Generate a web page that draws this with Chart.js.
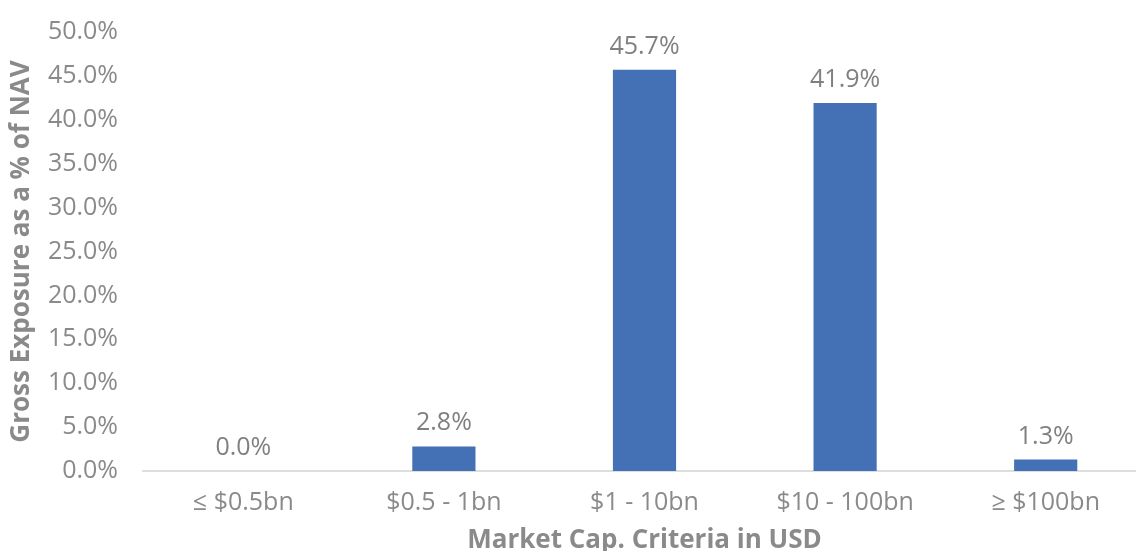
<!DOCTYPE html>
<html>
<head>
<meta charset="utf-8">
<script src="https://cdn.jsdelivr.net/npm/chart.js@4"></script>
<style>
  html, body { margin: 0; padding: 0; background: #fff; overflow: hidden; }
  #wrap { width: 1146px; height: 570px; position: relative; top: -8px; }
</style>
</head>
<body>
<div id="wrap"><canvas id="capChart"></canvas></div>
<script>
// Chart data
const categories = ["≤ $0.5bn", "$0.5 - 1bn", "$1 - 10bn", "$10 - 100bn", "≥ $100bn"];
const exposure = [0.0, 2.8, 45.7, 41.9, 1.3];

const textGrey = "#8a8a8a";
const barBlue = "#4471B5";

// Draw value labels above each bar
const barLabels = {
  id: "barLabels",
  afterDatasetsDraw(chart) {
    const ctx = chart.ctx;
    const meta = chart.getDatasetMeta(0);
    ctx.save();
    ctx.font = "25px 'Open Sans'";
    ctx.fillStyle = "#808080";
    ctx.textAlign = "center";
    ctx.textBaseline = "alphabetic";
    meta.data.forEach((bar, i) => {
      ctx.fillText(exposure[i].toFixed(1) + "%", bar.x, bar.y - 16);
    });
    ctx.restore();
  },
};

new Chart(document.getElementById("capChart"), {
  type: "bar",
  data: {
    labels: categories,
    datasets: [
      {
        data: exposure,
        backgroundColor: barBlue,
        barPercentage: 0.63,
        categoryPercentage: 0.5,
      },
    ],
  },
  options: {
    responsive: true,
    maintainAspectRatio: false,
    animation: false,
    layout: { padding: { left: 2, top: 22, right: 0, bottom: 2 } },
    plugins: {
      legend: { display: false },
      tooltip: { enabled: false },
    },
    scales: {
      x: {
        grid: { display: false, drawTicks: false },
        border: { display: true, color: "#dedede", width: 2 },
        ticks: {
          color: textGrey,
          font: { family: "'Open Sans'", size: 25 },
          padding: 17,
          maxRotation: 0,
        },
        title: {
          display: true,
          text: "Market Cap. Criteria in USD",
          color: textGrey,
          font: { family: "'Open Sans'", size: 26, weight: "bold" },
        },
        afterFit: (scale) => {
          scale.height = 89;
        },
      },
      y: {
        min: 0,
        max: 50,
        grid: { display: false, drawTicks: false },
        border: { display: false },
        ticks: {
          stepSize: 5,
          color: textGrey,
          font: { family: "'Open Sans'", size: 25 },
          padding: 25,
          callback: (value) => value.toFixed(1) + "%",
        },
        title: {
          display: true,
          text: "Gross Exposure as a % of NAV",
          color: textGrey,
          font: { family: "'Open Sans'", size: 26, weight: "bold" },
        },
        afterFit: (scale) => {
          scale.width = 141;
        },
      },
    },
  },
  plugins: [barLabels],
});
</script>
</body>
</html>
